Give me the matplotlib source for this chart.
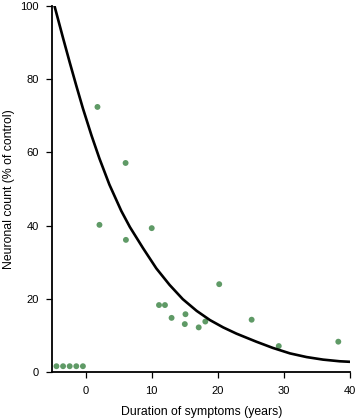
import numpy as np
import matplotlib
matplotlib.use('Agg')
import matplotlib.pyplot as plt

plt.rcParams['font.family'] = ['Liberation Sans', 'DejaVu Sans']

# observed cases: duration of symptoms (years) vs neuronal count (% of control)
duracao = [-4.4, -3.4, -2.4, -1.4, -0.4, 1.8, 2.1, 6.05, 6.1, 10.0, 11.1, 12.0,
           13.0, 15.0, 15.1, 17.1, 18.1, 20.2, 25.1, 29.2, 38.2]
contagem = [1.6, 1.6, 1.6, 1.6, 1.6, 72.4, 40.2, 57.1, 36.1, 39.3, 18.3, 18.3,
            14.8, 13.1, 15.8, 12.2, 13.8, 24.0, 14.3, 7.1, 8.3]

# fitted decay curve
curvaX = [-4.7, -3.4, -2.4, -1.4, -0.4, 0.9, 2.1, 3.6, 5.4, 6.7, 8.7, 10.7,
          12.7, 14.7, 16.8, 18.8, 20.8, 22.8, 25.8, 28.3, 30.9, 33.4, 35.9,
          38.4, 40.0]
curvaY = [100.0, 91.2, 84.6, 78.2, 72.0, 64.6, 58.3, 51.2, 44.0, 39.6, 33.8,
          28.3, 23.8, 19.9, 16.7, 14.2, 12.2, 10.5, 8.3, 6.6, 5.1, 4.1, 3.4,
          2.95, 2.8]

xTicks = [0, 10, 20, 30, 40]
yTicks = [0, 20, 40, 60, 80, 100]

fig = plt.figure(figsize=(3.57, 4.19), dpi=100)
ax = fig.add_axes([0.147, 0.112, 0.834, 0.874])

ax.plot(curvaX, curvaY, color='black', lw=1.9, solid_joinstyle='round', zorder=3)
ax.scatter(duracao, contagem, s=18, color='#5f9a66', edgecolors='none', zorder=2)

ax.set_xlim(-5, 40)
ax.set_ylim(0, 100)
ax.set_xticks(xTicks)
ax.set_yticks(yTicks)

for lado in ['top', 'right']:
    ax.spines[lado].set_visible(False)
for lado in ['left', 'bottom']:
    ax.spines[lado].set_linewidth(1.3)

ax.tick_params(direction='out', length=4.2, width=0.9, labelsize=8)
ax.tick_params(axis='x', pad=6)
ax.tick_params(axis='y', pad=5.5)
ax.set_xlabel('Duration of symptoms (years)', fontsize=8.8, labelpad=7)
ax.set_ylabel('Neuronal count (% of control)', fontsize=8.8, labelpad=4)

fig.savefig('out.png', dpi=100)
